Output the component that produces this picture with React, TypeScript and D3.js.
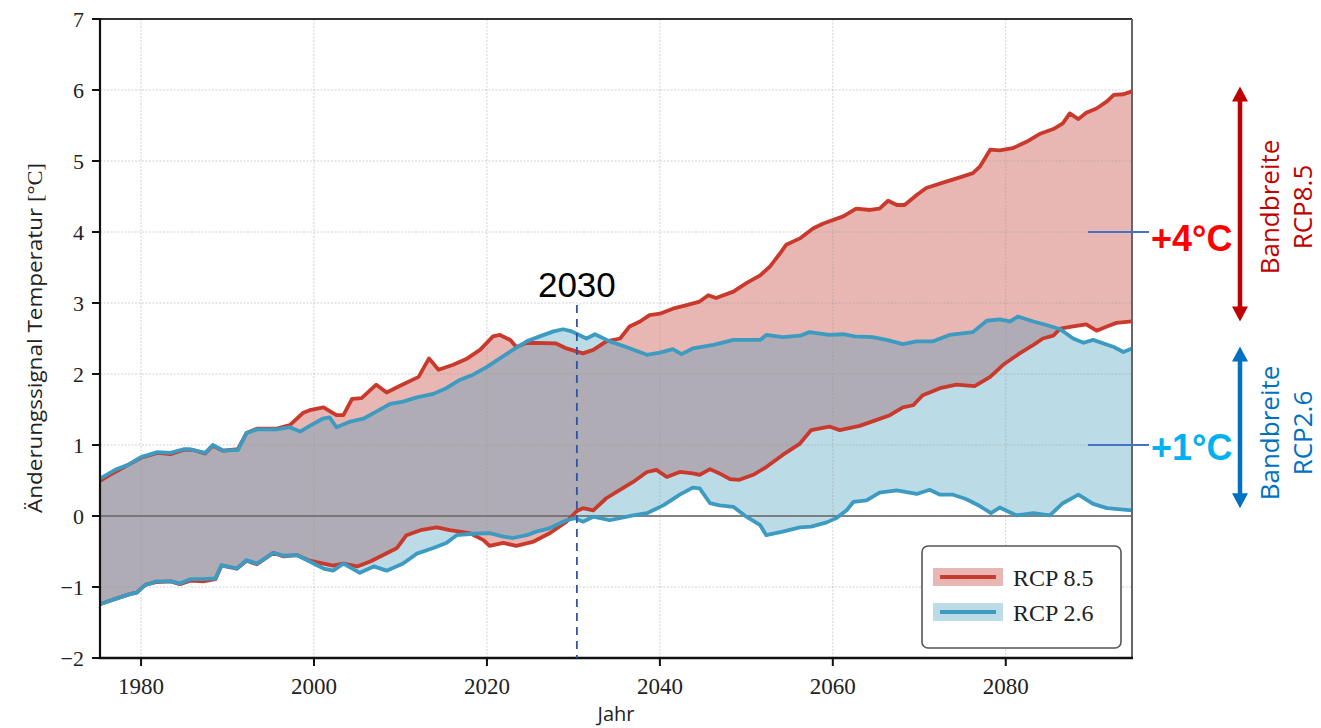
import React from 'react';
import * as d3 from 'd3';

type P = [number, number];

// RCP 8.5 band: upper and lower edge [year, °C]
const rcp85Upper: P[] = [
  [1975.3, 0.5], [1977, 0.62], [1978.5, 0.72], [1980, 0.82], [1981.9, 0.89], [1983.4, 0.87], [1984.9, 0.93],
  [1986, 0.93], [1987.4, 0.88], [1988.3, 0.99], [1989.5, 0.92], [1991.2, 0.94], [1992.2, 1.17], [1993.4, 1.23],
  [1995.7, 1.23], [1997.2, 1.28], [1998.7, 1.45], [1999.5, 1.49], [2001.1, 1.53], [2002.6, 1.42], [2003.4, 1.42],
  [2004.4, 1.65], [2005.5, 1.66], [2007.2, 1.85], [2008.4, 1.74], [2009.9, 1.83], [2012.1, 1.96], [2013.3, 2.22],
  [2014.4, 2.06], [2016.1, 2.13], [2017.6, 2.21], [2019.2, 2.34], [2020.7, 2.53], [2021.5, 2.55], [2022.7, 2.48],
  [2023.4, 2.38], [2024.6, 2.44], [2028, 2.43], [2029.2, 2.36], [2031.1, 2.29], [2032.3, 2.34], [2033.8, 2.46],
  [2035.4, 2.5], [2036.5, 2.67], [2037.7, 2.74], [2038.8, 2.83], [2040, 2.85], [2041.5, 2.92], [2043.1, 2.97],
  [2044.6, 3.02], [2045.6, 3.11], [2046.5, 3.07], [2048.5, 3.16], [2050, 3.28], [2051.6, 3.39], [2052.7, 3.51],
  [2053.9, 3.7], [2054.6, 3.82], [2056.2, 3.91], [2057.7, 4.05], [2058.9, 4.12], [2061.2, 4.22], [2062.7, 4.33],
  [2064.3, 4.31], [2065.4, 4.33], [2066.4, 4.44], [2067.4, 4.38], [2068.3, 4.38], [2069.7, 4.52], [2070.8, 4.62],
  [2073.1, 4.71], [2074.7, 4.77], [2076.2, 4.83], [2077, 4.92], [2078.2, 5.16], [2079.3, 5.15], [2080.8, 5.18],
  [2082.4, 5.27], [2083.9, 5.38], [2085.5, 5.45], [2086.6, 5.53], [2087.4, 5.67], [2088.4, 5.59], [2089.3, 5.68],
  [2090.5, 5.74], [2091.7, 5.84], [2092.5, 5.93], [2093.6, 5.94], [2094.6, 5.98],
];

const rcp85Lower: P[] = [
  [1975.3, -1.24], [1977.2, -1.16], [1978.7, -1.1], [1979.5, -1.08], [1980.5, -0.97], [1981.8, -0.93], [1983.4, -0.92],
  [1984.5, -0.96], [1985.7, -0.91], [1987.2, -0.92], [1988.6, -0.89], [1989.3, -0.7], [1991.1, -0.74], [1992.2, -0.63],
  [1993.4, -0.68], [1995.3, -0.52], [1996.5, -0.57], [1998, -0.55], [1999.5, -0.63], [2001.1, -0.67], [2002.2, -0.7],
  [2003.4, -0.67], [2005, -0.71], [2006.5, -0.64], [2008, -0.55], [2009.6, -0.45], [2010.7, -0.27], [2012.3, -0.2],
  [2014.2, -0.16], [2015.7, -0.2], [2018, -0.24], [2019.6, -0.34], [2020.3, -0.42], [2021.9, -0.38], [2023.4, -0.42],
  [2025.4, -0.36], [2027.3, -0.24], [2029.2, -0.08], [2030.4, 0.07], [2031.1, 0.11], [2032.3, 0.08], [2033.8, 0.25],
  [2035, 0.34], [2036.9, 0.48], [2038.5, 0.62], [2039.6, 0.65], [2040.8, 0.55], [2042.3, 0.62], [2043.8, 0.6],
  [2044.6, 0.58], [2045.8, 0.66], [2046.9, 0.6], [2048.1, 0.52], [2049.2, 0.51], [2050.8, 0.58], [2052.3, 0.69],
  [2054.2, 0.86], [2056.2, 1.02], [2057.5, 1.21], [2059.6, 1.26], [2060.8, 1.21], [2063.1, 1.27], [2065, 1.35],
  [2066.6, 1.42], [2068.1, 1.53], [2069.3, 1.56], [2070.4, 1.7], [2072.4, 1.8], [2074.3, 1.85], [2076.4, 1.83],
  [2078.2, 1.96], [2079.7, 2.13], [2081.6, 2.29], [2083.2, 2.41], [2084.3, 2.5], [2085.5, 2.54], [2086.3, 2.64],
  [2087.8, 2.67], [2089.3, 2.7], [2090.5, 2.61], [2091.7, 2.67], [2092.8, 2.72], [2094.6, 2.74],
];

// RCP 2.6 band: upper and lower edge [year, °C]
const rcp26Upper: P[] = [
  [1975.3, 0.53], [1977, 0.65], [1978.5, 0.72], [1980, 0.83], [1981.9, 0.9], [1983.4, 0.89], [1984.9, 0.94],
  [1985.7, 0.94], [1987.4, 0.89], [1988.3, 1.0], [1989.5, 0.92], [1991.2, 0.93], [1992.2, 1.17], [1993.4, 1.22],
  [1995.7, 1.22], [1997.2, 1.25], [1998.4, 1.19], [1999.5, 1.27], [2001, 1.37], [2001.8, 1.39], [2002.6, 1.25],
  [2004.2, 1.33], [2005.7, 1.37], [2007.2, 1.47], [2008.8, 1.58], [2010.3, 1.61], [2011.9, 1.67], [2013.8, 1.72],
  [2015.3, 1.8], [2016.9, 1.92], [2018.4, 1.99], [2020, 2.1], [2021.5, 2.22], [2023, 2.34], [2024.6, 2.46],
  [2026.1, 2.53], [2027.7, 2.6], [2028.8, 2.63], [2029.8, 2.6], [2031.5, 2.5], [2032.5, 2.56], [2034.2, 2.46],
  [2036.1, 2.38], [2038.5, 2.27], [2040, 2.3], [2041.5, 2.35], [2042.5, 2.28], [2043.8, 2.36], [2046.2, 2.41],
  [2048.5, 2.48], [2051.6, 2.48], [2052.3, 2.55], [2054.2, 2.52], [2056.2, 2.54], [2057.3, 2.59], [2059.6, 2.55],
  [2061.2, 2.56], [2062.5, 2.53], [2064.6, 2.52], [2066.2, 2.48], [2068.1, 2.42], [2069.7, 2.46], [2071.6, 2.46],
  [2073.5, 2.55], [2076.2, 2.59], [2077.8, 2.75], [2079.3, 2.77], [2080.5, 2.74], [2081.4, 2.81], [2083.2, 2.74],
  [2084.7, 2.69], [2086.3, 2.63], [2087.8, 2.5], [2089, 2.44], [2090.1, 2.48], [2092.5, 2.38], [2093.6, 2.31],
  [2094.6, 2.36],
];

const rcp26Lower: P[] = [
  [1975.3, -1.24], [1977.2, -1.16], [1978.7, -1.1], [1979.5, -1.08], [1980.5, -0.97], [1981.8, -0.92], [1983.4, -0.92],
  [1984.5, -0.95], [1985.7, -0.89], [1987.2, -0.89], [1988.6, -0.88], [1989.3, -0.69], [1991.1, -0.74], [1992.2, -0.62],
  [1993.4, -0.67], [1995.3, -0.52], [1996.5, -0.56], [1998, -0.55], [1999.5, -0.64], [2001.1, -0.74], [2002.2, -0.77],
  [2003.4, -0.67], [2005.3, -0.8], [2006.9, -0.71], [2008.4, -0.77], [2010.3, -0.67], [2011.9, -0.53], [2013.8, -0.45],
  [2015.3, -0.38], [2016.5, -0.27], [2018.4, -0.25], [2020.3, -0.24], [2021.9, -0.29], [2023, -0.31], [2024.6, -0.27],
  [2025.7, -0.22], [2027.3, -0.17], [2029.2, -0.06], [2030.2, -0.03], [2031.1, -0.08], [2032.3, -0.01], [2034.2, -0.06],
  [2036.9, 0.01], [2038.5, 0.04], [2040.4, 0.15], [2042.3, 0.3], [2043.8, 0.4], [2044.6, 0.39], [2045.8, 0.18],
  [2046.9, 0.15], [2048.5, 0.13], [2050, -0.01], [2051.6, -0.13], [2052.3, -0.27], [2054.2, -0.22], [2056.2, -0.16],
  [2057.5, -0.15], [2059.3, -0.09], [2060.4, -0.03], [2061.6, 0.08], [2062.4, 0.2], [2063.9, 0.22], [2065.4, 0.33],
  [2067.4, 0.36], [2069.7, 0.31], [2071.2, 0.37], [2072.4, 0.3], [2073.9, 0.3], [2075.4, 0.24], [2077, 0.14],
  [2078.3, 0.04], [2079.3, 0.12], [2081.2, 0.01], [2083.2, 0.04], [2085.1, 0.01], [2086.6, 0.18], [2088.4, 0.3],
  [2090.1, 0.17], [2091.7, 0.11], [2094.6, 0.08],
];

const xTicks = [1980, 2000, 2020, 2040, 2060, 2080];
const yTicks = [-2, -1, 0, 1, 2, 3, 4, 5, 6, 7];
const legendLabels = ['RCP 8.5', 'RCP 2.6'];
const markerYear = 2030.4;
const markerLabel = '2030';
const bandLevels = [4, 1];
const bandLevelLabels = ['+4°C', '+1°C'];
const bandNames = ['RCP8.5', 'RCP2.6'];

const C = {
  redLine: '#c93a2d',
  blueLine: '#3d9bc1',
  redFill: '#e8b7b3',
  blueFill: '#bbdbe7',
  overlap: '#afacb5',
  redArrow: '#c00000',
  blueArrow: '#0070c0',
  plus4: '#ff0000',
  plus1: '#00b0f0',
  pointer: '#4472c4',
};

const serif = "'Liberation Serif', 'DejaVu Serif', serif";
const sans = "'Open Sans', 'Noto Sans', sans-serif";
const arial = "'Liberation Sans', Arial, sans-serif";

function Arrow({ x, y1, y2, color }: { x: number; y1: number; y2: number; color: string }) {
  const h = 15;
  const w = 8;
  return (
    <g fill={color} stroke="none">
      <line x1={x} x2={x} y1={y1 + h - 2} y2={y2 - h + 2} stroke={color} strokeWidth={4.5} />
      <polygon points={`${x},${y1} ${x - w},${y1 + h} ${x + w},${y1 + h}`} />
      <polygon points={`${x},${y2} ${x - w},${y2 - h} ${x + w},${y2 - h}`} />
    </g>
  );
}

export default function App() {
  const W = 1321;
  const H = 728;
  const x = d3.scaleLinear().domain([1975.25, 2094.6]).range([100, 1132]);
  const y = d3.scaleLinear().domain([-2, 7]).range([658, 19]);
  const [x0, x1] = x.range();
  const [yB, yT] = y.range();

  const line = d3.line<P>().x((d) => x(d[0])).y((d) => y(d[1]));
  const band = (up: P[], lo: P[]) => (line([...up, ...lo.slice().reverse()]) || '') + 'Z';
  const redBand = band(rcp85Upper, rcp85Lower);
  const blueBand = band(rcp26Upper, rcp26Lower);

  const fmt = (v: number) => String(v).replace('-', '\u2212');
  const last = (s: P[]) => s[s.length - 1][1];

  const mx = x(markerYear);

  return (
    <div style={{ position: 'absolute', left: 0, top: 0 }}>
      <svg width={W} height={H} viewBox={`0 0 ${W} ${H}`} style={{ display: 'block', background: '#fff' }}>
        <defs>
          <clipPath id="redClip">
            <path d={redBand} />
          </clipPath>
          <clipPath id="plotClip">
            <rect x={x0} y={yT} width={x1 - x0} height={yB - yT} />
          </clipPath>
        </defs>

        <g clipPath="url(#plotClip)">
          {/* fills */}
          <path d={redBand} fill={C.redFill} />
          <path d={blueBand} fill={C.blueFill} />
          <path d={blueBand} fill={C.overlap} clipPath="url(#redClip)" />

          {/* grid */}
          {xTicks.map((t) => (
            <line key={'gx' + t} x1={x(t)} x2={x(t)} y1={yT} y2={yB} stroke="#9a9a9a" strokeOpacity={0.45} strokeWidth={1} strokeDasharray="2,1.5" />
          ))}
          {yTicks.map((t) => (
            <line key={'gy' + t} x1={x0} x2={x1} y1={y(t)} y2={y(t)} stroke="#9a9a9a" strokeOpacity={0.45} strokeWidth={1} strokeDasharray="2,1.5" />
          ))}
          {/* zero line */}
          <line x1={x0} x2={x1} y1={y(0)} y2={y(0)} stroke="#6f6f6f" strokeOpacity={0.85} strokeWidth={1.8} />

          {/* lines */}
          {[rcp85Upper, rcp85Lower].map((s, i) => (
            <path key={'r' + i} d={line(s) || ''} fill="none" stroke={C.redLine} strokeWidth={3.8} strokeLinejoin="round" />
          ))}
          {[rcp26Upper, rcp26Lower].map((s, i) => (
            <path key={'b' + i} d={line(s) || ''} fill="none" stroke={C.blueLine} strokeWidth={3.8} strokeLinejoin="round" />
          ))}
        </g>

        {/* spines */}
        <line x1={x0} x2={x1} y1={yT} y2={yT} stroke="#333" strokeWidth={2.2} />
        <line x1={x1} x2={x1} y1={yT} y2={yB} stroke="#666" strokeWidth={2} />
        <line x1={x0} x2={x0} y1={yT - 1} y2={yB + 1} stroke="#111" strokeWidth={2.2} />
        <line x1={x0 - 1} x2={x1 + 1} y1={yB} y2={yB} stroke="#111" strokeWidth={2.6} />

        {/* y ticks */}
        {yTicks.map((t) => (
          <g key={'yt' + t}>
            <line x1={x0 - 8} x2={x0} y1={y(t)} y2={y(t)} stroke="#111" strokeWidth={2} />
            <text x={84} y={y(t)} dy="0.35em" textAnchor="end" fontFamily={serif} fontSize={22} fill="#222">
              {fmt(t)}
            </text>
          </g>
        ))}
        {/* x ticks */}
        {xTicks.map((t) => (
          <g key={'xt' + t}>
            <line x1={x(t)} x2={x(t)} y1={yB} y2={yB + 8} stroke="#111" strokeWidth={2} />
            <text x={x(t)} y={694} textAnchor="middle" fontFamily={serif} fontSize={23} fill="#222">
              {t}
            </text>
          </g>
        ))}

        {/* axis labels */}
        <text x={616} y={721} textAnchor="middle" fontFamily={sans} fontSize={20} fill="#222">
          Jahr
        </text>
        <text
          transform={`translate(42, ${338}) rotate(-90)`}
          textAnchor="middle"
          fontFamily={sans}
          fontSize={20}
          fill="#222"
          textLength={350}
          lengthAdjust="spacingAndGlyphs"
        >
          Änderungssignal Temperatur <tspan fontFamily={serif}>[°C]</tspan>
        </text>

        {/* 2030 marker */}
        <line x1={mx} x2={mx} y1={305} y2={yB} stroke="#2f55a4" strokeWidth={1.8} strokeDasharray="8,6" />
        <text x={mx} y={297} textAnchor="middle" fontFamily={arial} fontSize={35} fill="#000">
          {markerLabel}
        </text>

        {/* legend */}
        <rect x={922} y={546} width={199} height={102} rx={6} fill="#fff" stroke="#555" strokeWidth={1.6} />
        {legendLabels.map((lab, i) => {
          const cy = 577 + i * 35;
          return (
            <g key={lab}>
              <rect x={933} y={cy - 9} width={70} height={18} fill={i === 0 ? C.redFill : C.blueFill} />
              <line x1={940} x2={996} y1={cy} y2={cy} stroke={i === 0 ? C.redLine : C.blueLine} strokeWidth={4} />
              <text x={1013} y={cy} dy="0.36em" fontFamily={serif} fontSize={24} fill="#222">
                {lab}
              </text>
            </g>
          );
        })}

        {/* band level pointers */}
        {bandLevels.map((v, i) => (
          <g key={'bl' + v}>
            <line x1={1088} x2={1149} y1={y(v)} y2={y(v)} stroke={C.pointer} strokeWidth={2} />
            <text x={1151} y={y(v) + (i === 0 ? 19 : 15)} fontFamily={arial} fontWeight="bold" fontSize={36} fill={i === 0 ? C.plus4 : C.plus1}>
              {bandLevelLabels[i]}
            </text>
          </g>
        ))}

        {/* range arrows */}
        <Arrow x={1240} y1={y(last(rcp85Upper)) - 5} y2={y(last(rcp85Lower))} color={C.redArrow} />
        <Arrow x={1240} y1={y(last(rcp26Upper)) - 2} y2={y(last(rcp26Lower)) - 2} color={C.blueArrow} />

        {[0, 1].map((i) => {
          const cy = i === 0 ? 207 : 433;
          const col = i === 0 ? C.redArrow : C.blueArrow;
          return (
            <g key={'bn' + i} fill={col} fontFamily={sans} fontSize={26}>
              <text transform={`translate(1279, ${cy}) rotate(-90)`} textAnchor="middle">
                Bandbreite
              </text>
              <text transform={`translate(1312, ${cy}) rotate(-90)`} textAnchor="middle">
                {bandNames[i]}
              </text>
            </g>
          );
        })}
      </svg>
    </div>
  );
}
